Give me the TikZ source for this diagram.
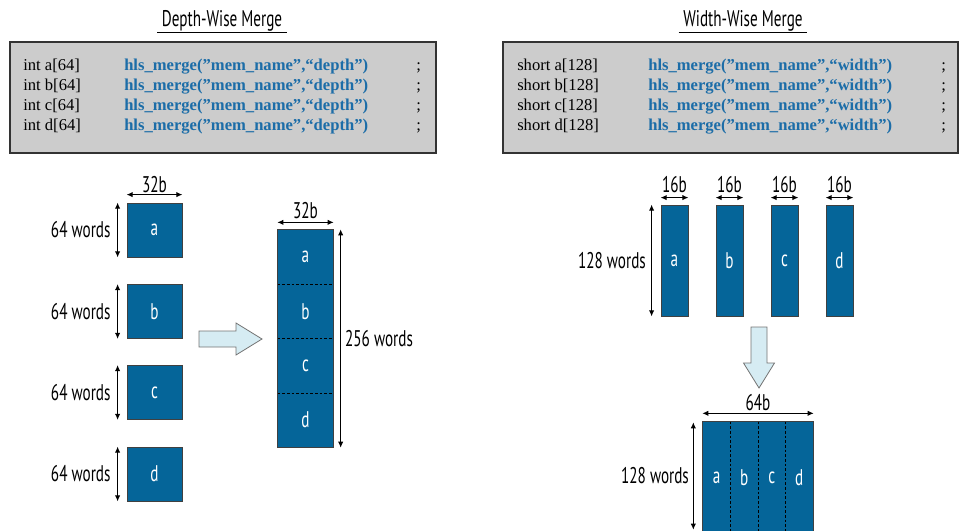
\documentclass[tikz,border=0pt]{standalone}
\usepackage{fontspec}
\setmainfont{PT Sans}[FakeStretch=0.67]
\newfontfamily\codefont{Liberation Serif}
\usetikzlibrary{arrows.meta,calc,fit}
\definecolor{memblue}{RGB}{5,101,153}
\definecolor{codeblue}{RGB}{28,109,168}
\definecolor{boxgray}{RGB}{204,204,204}
\definecolor{arrowfill}{RGB}{214,236,243}

\begin{document}
\begin{tikzpicture}[x=0.75pt, y=-0.75pt, font=\fontsize{17}{20}\selectfont]
    % Styles
    \tikzset{memblk/.style={rectangle, fill=memblue, draw=black!75, line width=0.6pt,
      text=white, inner sep=0pt}}
    \tikzset{memcol/.style={rectangle, fill=memblue, text=white, inner sep=0pt}}
    \tikzset{dimline/.style={{Latex[length=4.5pt,width=4pt]}-{Latex[length=4.5pt,width=4pt]},
      line width=0.7pt}}
    \tikzset{dimlabel/.style={anchor=south, inner sep=0pt, yshift=1.5pt}}
    \tikzset{codebox/.style={rectangle, fill=boxgray, draw=black!80, line width=1.1pt, inner sep=0pt}}
    \tikzset{codeline/.style={anchor=base west, inner sep=0pt,
      font=\codefont\fontsize{12.45}{15}\selectfont}}
    \tikzset{codecall/.style={codeline, text=codeblue,
      font=\codefont\bfseries\fontsize{12.45}{15}\selectfont}}
    \tikzset{mergearrow/.style={fill=arrowfill, draw=black!55, line width=0.6pt}}
    \tikzset{title/.style={inner xsep=3.4pt, inner ysep=0pt, anchor=base}}

    \useasboundingbox (0,0) rectangle (959,531);

    % Titles
    \node[title] (ttldepth) at (222,27) {Depth-Wise Merge};
    \draw[line width=0.75pt] (ttldepth.south west) -- (ttldepth.south east);
    \node[title] (ttlwidth) at (743,27) {Width-Wise Merge};
    \draw[line width=0.75pt] (ttlwidth.south west) -- (ttlwidth.south east);

    % Code boxes
    \node[codebox, fit={(10,42) (436,153)}] (depthbox) {};
    \node[codebox, fit={(503,42) (958,153)}] (widthbox) {};
    \foreach \v [count=\i] in {a,b,c,d}{
      \node[codeline] (dvar\v) at (23,51+20*\i) {int \v[64]};
      \node[codecall] (dcall\v) at (124,51+20*\i) {hls\_merge(”mem\_name”,“depth”)};
      \node[codeline] (dsemi\v) at (416,51+20*\i) {;};
      \node[codeline] (wvar\v) at (517,51+20*\i) {short \v[128]};
      \node[codecall] (wcall\v) at (648,51+20*\i) {hls\_merge(”mem\_name”,“width”)};
      \node[codeline] (wsemi\v) at (941,51+20*\i) {;};
    }

    % Depth-wise: four 64-word blocks
    \foreach \v/\yy in {a/230, b/311.5, c/392.5, d/474}{
      \node[memblk, minimum width=41.25pt, minimum height=40.5pt] (d\v) at (154.5,\yy) {\v};
      \draw[dimline] ($(d\v.north west)+(-9,0)$) -- ($(d\v.south west)+(-9,0)$)
        node[midway, anchor=east, inner sep=0pt, xshift=-5pt] {64 words};
    }
    \draw[dimline] ($(da.north west)+(0,-8)$) -- ($(da.north east)+(0,-8)$)
      node[midway, dimlabel, yshift=-0.75pt] {32b};

    % Depth-wise: merged column
    \foreach \v [count=\i] in {a,b,c,d}{
      \node[memcol, minimum width=41.25pt, minimum height=40.69pt] (dm\v)
        at (305.5,202.9+54.25*\i) {\v};
    }
    \node[draw=black!75, line width=0.6pt, fit=(dma)(dmd), inner sep=0pt] (dmerged) {};
    \foreach \v in {a,b,c}{
      \draw[line width=0.6pt, dash pattern=on 2pt off 1.5pt] (dm\v.south west) -- (dm\v.south east);
    }
    \draw[dimline] ($(dmerged.north west)+(0,-7)$) -- ($(dmerged.north east)+(0,-7)$)
      node[midway, dimlabel, yshift=0.75pt] {32b};
    \draw[dimline] ($(dmerged.north east)+(7,0)$) -- ($(dmerged.south east)+(7,0)$)
      node[midway, anchor=west, inner sep=0pt, xshift=3pt] {256 words};

    % Depth-wise arrow
    \draw[mergearrow] (199,331) -- (236,331) -- (236,323) -- (262,339) -- (236,355)
      -- (236,347) -- (199,347) -- cycle;

    % Width-wise: four 128-word columns
    \foreach \v [count=\i] in {a,b,c,d}{
      \node[memblk, minimum width=20.25pt, minimum height=83.25pt] (w\v) at (619.5+55*\i,260.5) {\v};
      \draw[dimline] ($(w\v.north west)+(0,-7)$) -- ($(w\v.north east)+(0,-7)$)
        node[midway, dimlabel, yshift=1.5pt] {16b};
    }
    \draw[dimline] ($(wa.north west)+(-9,0)$) -- ($(wa.south west)+(-9,0)$)
      node[midway, anchor=east, inner sep=0pt, xshift=-4pt] {128 words};

    % Width-wise arrow
    \draw[mergearrow] (751,327) -- (767,327) -- (767,363) -- (774.5,363) -- (759,388)
      -- (743.5,363) -- (751,363) -- cycle;

    % Width-wise: merged block
    \foreach \v [count=\i] in {a,b,c,d}{
      \node[memcol, minimum width=20.625pt, minimum height=83.25pt] (wm\v)
        at (689.25+27.5*\i,477.5) {\v};
    }
    \node[draw=black!75, line width=0.6pt, fit=(wma)(wmd), inner sep=0pt] (wmerged) {};
    \foreach \v in {a,b,c}{
      \draw[line width=0.6pt, dash pattern=on 2pt off 1.5pt] (wm\v.north east) -- (wm\v.south east);
    }
    \draw[dimline] ($(wmerged.north west)+(0,-8)$) -- ($(wmerged.north east)+(0,-8)$)
      node[midway, dimlabel] {64b};
    \draw[dimline] ($(wmerged.north west)+(-9,1)$) -- ($(wmerged.south west)+(-9,-4)$)
      node[midway, anchor=east, inner sep=0pt, xshift=-3pt] {128 words};
\end{tikzpicture}
\end{document}
